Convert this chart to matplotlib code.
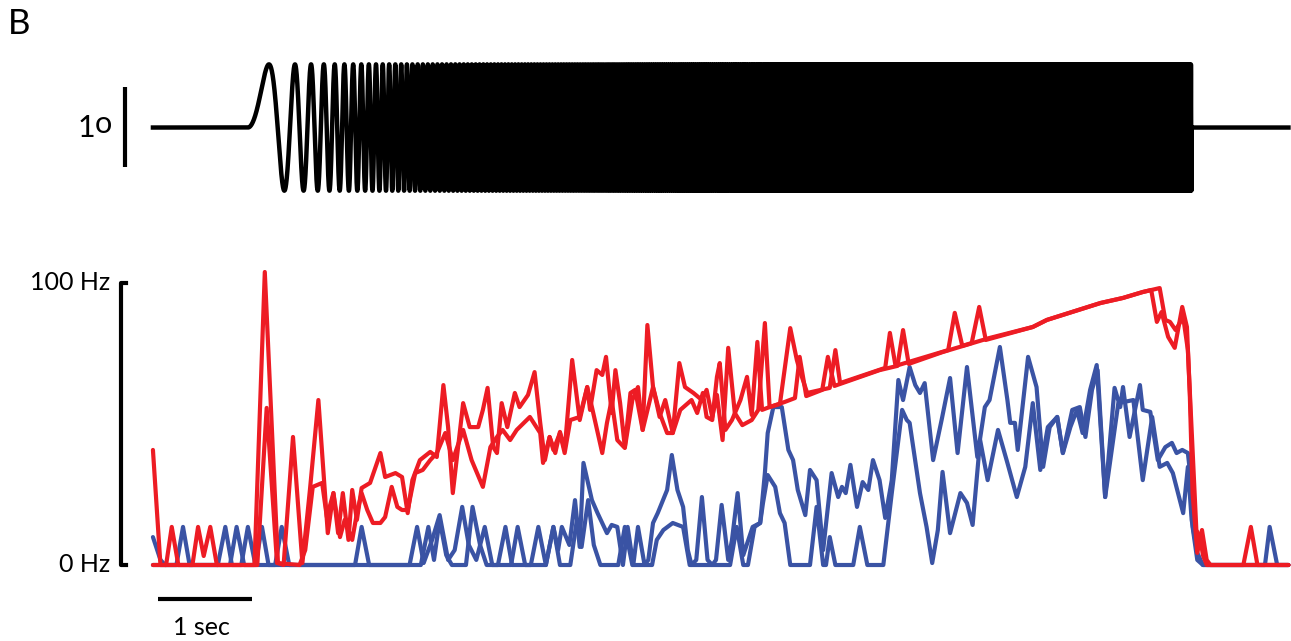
import numpy as np
import matplotlib
matplotlib.use("Agg")
import matplotlib.pyplot as plt

plt.rcParams['font.family'] = ['Lato', 'DejaVu Sans']

# stimulus: linear chirp (deg) -- onset, length, end frequency, amplitude
chirp_on = 1.02
chirp_dur = 10.04
chirp_f_end = 100.0
chirp_amp = 0.81
trace_end = 12.09

# firing rate traces, time (s) and rate (Hz)
r1_t = [0.01, 0.09, 1.09, 1.20, 1.34, 1.40, 1.50, 1.60, 1.68, 1.77, 1.87, 1.93, 1.98, 2.03, 2.09, 2.13,
        2.18, 2.23, 2.32, 2.43, 2.48, 2.59, 2.66, 2.72, 2.77, 2.85, 2.96, 3.03, 3.10, 3.15, 3.20, 3.31,
        3.38, 3.47, 3.52, 3.57, 3.63, 3.67, 3.72, 3.78, 3.86, 3.91, 4.00, 4.07, 4.13, 4.18, 4.23, 4.29,
        4.34, 4.39, 4.47, 4.55, 4.63, 4.66, 4.73, 4.79, 4.83, 4.89, 4.93, 4.98, 5.03, 5.09, 5.14, 5.22,
        5.27, 5.33, 5.40, 5.46, 5.54, 5.61, 5.67, 5.76, 5.85, 5.90, 5.96, 6.01, 6.07, 6.13, 6.20, 6.28,
        6.38, 6.45, 6.52, 6.57, 6.68, 6.79, 6.86, 6.89, 6.97, 7.21, 7.27, 7.32, 7.80, 7.85, 7.91, 8.47,
        8.54, 8.62, 8.72, 8.80, 8.87, 9.37, 9.52, 10.09, 10.33, 10.54, 10.63, 10.69, 10.74, 10.81, 10.88,
        10.96, 11.01, 11.04, 11.07, 11.12, 11.17, 11.22, 11.26, 11.61, 11.69, 11.76, 12.09]
r1_hz = [40.8, 0, 0, 103.9, 0.7, 0, 45.4, 0.7, 26.6, 58.5, 11.3, 25.5, 11.3, 25.5, 8.9, 26.6,
         16.0, 27.3, 29.1, 39.7, 31.2, 32.6, 31.2, 18.4, 30.1, 37.2, 40.1, 38.3, 63.8, 48.9, 25.5, 57.4,
         48.9, 48.9, 55.0, 62.8, 41.8, 39.7, 57.4, 48.9, 61.0, 56.0, 60.3, 68.4, 50.4, 37.2, 45.4, 39.7,
         47.2, 40.8, 72.7, 51.4, 63.1, 55.0, 69.1, 67.4, 73.8, 53.9, 69.1, 57.4, 41.8, 61.0, 62.1, 47.9,
         85.1, 63.1, 52.5, 58.5, 46.8, 71.6, 63.1, 61.0, 58.5, 62.1, 52.5, 60.3, 44.3, 77.0, 53.9, 49.6,
         51.4, 55.0, 85.8, 56.0, 57.1, 84.0, 72.7, 69.1, 61.0, 62.8, 76.2, 64.5, 69.9, 82.3, 70.6, 76.2,
         89.4, 77.7, 78.7, 91.5, 79.8, 84.4, 86.9, 92.9, 94.7, 96.8, 97.5, 86.2, 89.7, 80.9, 77.0,
         91.5, 84.4, 61.0, 25.5, 4.3, 12.4, 1.8, 0, 0, 13.5, 0, 0]

r2_t = [0.01, 0.15, 0.21, 0.28, 0.43, 0.49, 0.55, 0.62, 0.69, 1.12, 1.22, 1.33, 1.57, 1.63, 1.71, 1.81,
        1.86, 1.93, 2.00, 2.05, 2.13, 2.18, 2.23, 2.29, 2.35, 2.43, 2.48, 2.55, 2.61, 2.66, 2.72, 2.80,
        2.88, 2.96, 3.03, 3.12, 3.20, 3.31, 3.40, 3.52, 3.60, 3.67, 3.73, 3.81, 3.88, 4.02, 4.13, 4.16,
        4.23, 4.27, 4.34, 4.39, 4.45, 4.55, 4.63, 4.68, 4.79, 4.84, 4.89, 4.95, 5.03, 5.11, 5.17, 5.22,
        5.33, 5.40, 5.48, 5.54, 5.62, 5.74, 5.80, 5.86, 5.90, 5.96, 6.01, 6.04, 6.10, 6.17, 6.26, 6.33,
        6.38, 6.44, 6.49, 6.57, 6.73, 6.84, 6.89, 6.96, 7.13, 7.19, 7.26, 7.74, 7.93, 7.99, 8.05, 8.41,
        8.91, 9.37, 9.52, 10.09, 10.33, 10.54, 10.72, 10.78, 10.83, 10.89, 10.97, 11.02, 11.06, 11.11,
        11.15, 11.18, 11.22, 12.09]
r2_hz = [0, 0, 13.5, 0, 0, 13.5, 3.2, 13.5, 0, 0, 55.7, 0.7, 0, 5.3, 27.7, 29.1,
         17.0, 25.5, 9.9, 16.0, 8.9, 18.4, 25.5, 19.5, 14.9, 14.9, 17.0, 27.7, 20.6, 19.5, 19.5, 32.6,
         33.7, 37.2, 39.7, 46.8, 37.2, 47.9, 37.2, 27.7, 41.8, 45.4, 47.9, 44.3, 47.9, 52.5, 46.8, 36.2,
         45.4, 40.8, 46.8, 39.7, 51.4, 52.5, 63.1, 56.0, 39.7, 50.4, 58.5, 44.3, 41.5, 58.5, 63.1, 47.9,
         63.1, 53.9, 46.8, 46.8, 55.0, 58.5, 53.9, 61.0, 52.5, 51.4, 66.7, 71.6, 47.9, 51.4, 58.5, 66.7,
         53.2, 79.1, 55.0, 56.0, 57.8, 59.2, 73.8, 59.9, 62.1, 73.8, 63.5, 69.1, 70.6, 83.3, 71.3, 75.5,
         80.5, 84.4, 86.9, 92.9, 94.7, 96.8, 98.2, 86.9, 86.2, 83.3, 87.9, 76.2, 47.9, 12.4,
         9.9, 3.5, 0, 0]

b1_t = [0.01, 0.09, 0.14, 0.26, 0.33, 0.40, 0.70, 0.78, 0.85, 0.95, 1.02, 1.10, 1.31, 1.38, 1.46, 2.16,
        2.23, 2.31, 2.74, 2.82, 2.89, 2.98, 3.06, 3.15, 3.22, 3.30, 3.37, 3.45, 3.54, 3.62, 3.82, 3.89,
        3.97, 4.03, 4.11, 4.19, 4.27, 4.32, 4.36, 4.44, 4.50, 4.55, 4.59, 4.68, 4.74, 4.84, 4.89, 4.95,
        5.01, 5.06, 5.12, 5.17, 5.24, 5.28, 5.33, 5.38, 5.48, 5.53, 5.59, 5.65, 5.70, 5.74, 5.79, 5.85,
        5.91, 5.96, 6.00, 6.06, 6.13, 6.17, 6.23, 6.29, 6.39, 6.47, 6.52, 6.55, 6.61, 6.70, 6.77, 6.82,
        6.87, 6.95, 7.00, 7.07, 7.14, 7.23, 7.30, 7.34, 7.38, 7.43, 7.50, 7.56, 7.62, 7.67, 7.74, 7.80,
        7.87, 7.94, 7.99, 8.06, 8.12, 8.17, 8.22, 8.31, 8.40, 8.49, 8.57, 8.67, 8.78, 8.86, 8.91, 9.02,
        9.10, 9.13, 9.18, 9.21, 9.32, 9.41, 9.48, 9.55, 9.63, 9.69, 9.77, 9.84, 9.90, 9.98, 10.05, 10.14,
        10.24, 10.30, 10.33, 10.40, 10.51, 10.54, 10.62, 10.70, 10.78, 10.85, 10.90, 10.96, 11.02, 11.04,
        11.07, 11.12, 11.18, 11.84, 11.89, 11.97, 12.09]
b1_hz = [9.9, 1.8, 0, 0, 13.5, 0, 0, 13.5, 0, 0, 13.5, 0, 0, 13.5, 0, 0,
         13.5, 0, 0, 13.5, 0.7, 8.9, 17.7, 1.8, 5.3, 20.6, 7.1, 1.8, 13.5, 0, 0, 13.5,
         0, 0, 13.5, 0, 13.5, 5.3, 13.5, 7.1, 23.0, 6.4, 36.2, 23.0, 18.4, 11.3, 14.2, 13.5,
         0, 13.5, 0, 13.5, 0, 1.8, 14.9, 18.4, 26.6, 39.0, 26.6, 20.6, 5.3, 0, 1.8, 24.1,
         1.8, 0, 1.8, 21.3, 1.8, 8.9, 25.5, 3.5, 13.5, 14.9, 32.6, 46.8, 56.0, 56.0, 40.8, 37.2,
         26.6, 17.7, 33.7, 30.1, 5.3, 32.6, 24.1, 27.7, 25.5, 35.5, 20.6, 29.4, 26.6, 37.2, 30.1, 16.7,
         30.1, 65.6, 58.5, 70.2, 63.8, 61.0, 64.5, 37.2, 51.4, 66.3, 39.7, 70.2, 38.3, 56.0, 58.5, 77.3,
         58.5, 50.4, 50.4, 40.8, 73.8, 63.1, 34.8, 48.9, 52.5, 39.7, 48.9, 55.0, 46.8, 62.1, 70.9, 24.1,
         62.8, 56.0, 63.1, 45.4, 63.8, 55.0, 54.3, 37.2, 41.8, 43.3, 39.7, 40.8, 39.7, 33.7,
         13.5, 1.8, 0, 0, 13.5, 0, 0]

b2_t = [0.01, 0.83, 0.90, 0.98, 1.10, 1.17, 1.24, 2.86, 2.94, 3.00, 3.06, 3.13, 3.19, 3.34, 3.41, 3.49,
        3.56, 3.68, 3.76, 3.83, 4.19, 4.27, 4.34, 4.45, 4.52, 4.57, 4.64, 4.70, 4.77, 4.96, 5.03, 5.11,
        5.32, 5.37, 5.44, 5.54, 5.65, 5.72, 6.15, 6.22, 6.29, 6.34, 6.41, 6.47, 6.50, 6.55, 6.63, 6.68,
        6.73, 6.79, 7.00, 7.07, 7.14, 7.17, 7.21, 7.27, 7.46, 7.53, 7.61, 7.78, 7.87, 7.98, 8.03, 8.06,
        8.17, 8.24, 8.30, 8.36, 8.41, 8.49, 8.60, 8.67, 8.73, 8.81, 8.89, 9.00, 9.10, 9.20, 9.29, 9.37,
        9.45, 9.53, 9.63, 9.69, 9.79, 9.87, 9.93, 10.00, 10.06, 10.14, 10.28, 10.44, 10.54, 10.64, 10.72,
        10.80, 10.86, 10.97, 11.02, 11.06, 11.12, 11.18, 12.09]
b2_hz = [0, 0, 13.5, 0, 0, 13.5, 0, 0, 13.5, 1.8, 16.0, 3.5, 0, 0, 20.6, 7.1,
         0, 0, 13.5, 0, 0, 13.5, 0, 0, 16.0, 6.4, 23.0, 7.1, 0, 0, 13.5, 0,
         0, 8.9, 12.4, 14.9, 13.5, 0, 0, 13.5, 0, 0, 13.5, 14.9, 22.0, 31.9, 27.7, 18.4,
         14.9, 0, 0, 20.6, 0, 0, 9.9, 0, 0, 13.5, 0, 0, 25.5, 55.0, 51.4, 50.4,
         25.5, 13.5, 0.7, 12.4, 33.0, 11.3, 25.5, 22.0, 14.2, 44.3, 30.1, 47.9, 36.2, 24.1, 34.8, 57.4,
         33.7, 48.9, 52.5, 39.7, 55.0, 56.0, 45.4, 62.1, 69.1, 24.1, 57.4, 58.5, 30.1, 52.5, 34.8,
         36.2, 32.6, 18.4, 34.8, 16.0, 4.3, 0, 0]

red = '#ED1C24'
blue = '#3A53A4'

fig = plt.figure(figsize=(12.91, 6.41), dpi=100)

# lower panel: firing rates
ax = fig.add_axes([0, 0, 1, 1])
ax.set_xlim(-1.617, 12.117)
ax.set_ylim(-26.95, 200.35)
ax.axis('off')
for t, hz in [(b2_t, b2_hz), (b1_t, b1_hz)]:
    ax.plot(t, hz, color=blue, lw=3.0, solid_joinstyle='round', solid_capstyle='round')
for t, hz in [(r2_t, r2_hz), (r1_t, r1_hz)]:
    ax.plot(t, hz, color=red, lw=3.0, solid_joinstyle='round', solid_capstyle='round')

# rate scale bar
ax.plot([-0.28, -0.33, -0.33, -0.28], [0, 0, 100, 100], color='black', lw=3)
ax.text(-0.45, 100, '100 Hz', ha='right', va='center', fontsize=18)
ax.text(-0.45, 0, '0 Hz', ha='right', va='center', fontsize=18)
# time scale bar
ax.plot([0.06, 1.06], [-12.1, -12.1], color='black', lw=3, solid_capstyle='butt')
ax.text(0.53, -22, '1 sec', ha='center', va='center', fontsize=18)

# upper panel: stimulus
ax2 = fig.add_axes([0, 0, 1, 1])
ax2.set_xlim(-1.617, 12.117)
ax2.set_ylim(-6.583, 1.635)
ax2.axis('off')
ts = np.arange(0.01, trace_end, 0.0002)
tt = np.clip(ts - chirp_on, 0, chirp_dur)
k = chirp_f_end / chirp_dur
deg = chirp_amp * np.sin(np.pi * k * tt ** 2)
deg[(ts < chirp_on) | (ts > chirp_on + chirp_dur)] = 0
ax2.plot(ts, deg, color='black', lw=3.2)

ax2.plot([-0.287, -0.287], [-0.51, 0.52], color='black', lw=3, solid_capstyle='butt')
ax2.text(-0.6, 0.0, '1', ha='right', va='center', fontsize=22)
ax2.text(-0.43, 0.04, 'o', ha='right', va='center', fontsize=22)

fig.text(0.006, 0.962, 'B', ha='left', va='center', fontsize=25)

fig.savefig('out.png', dpi=100)
